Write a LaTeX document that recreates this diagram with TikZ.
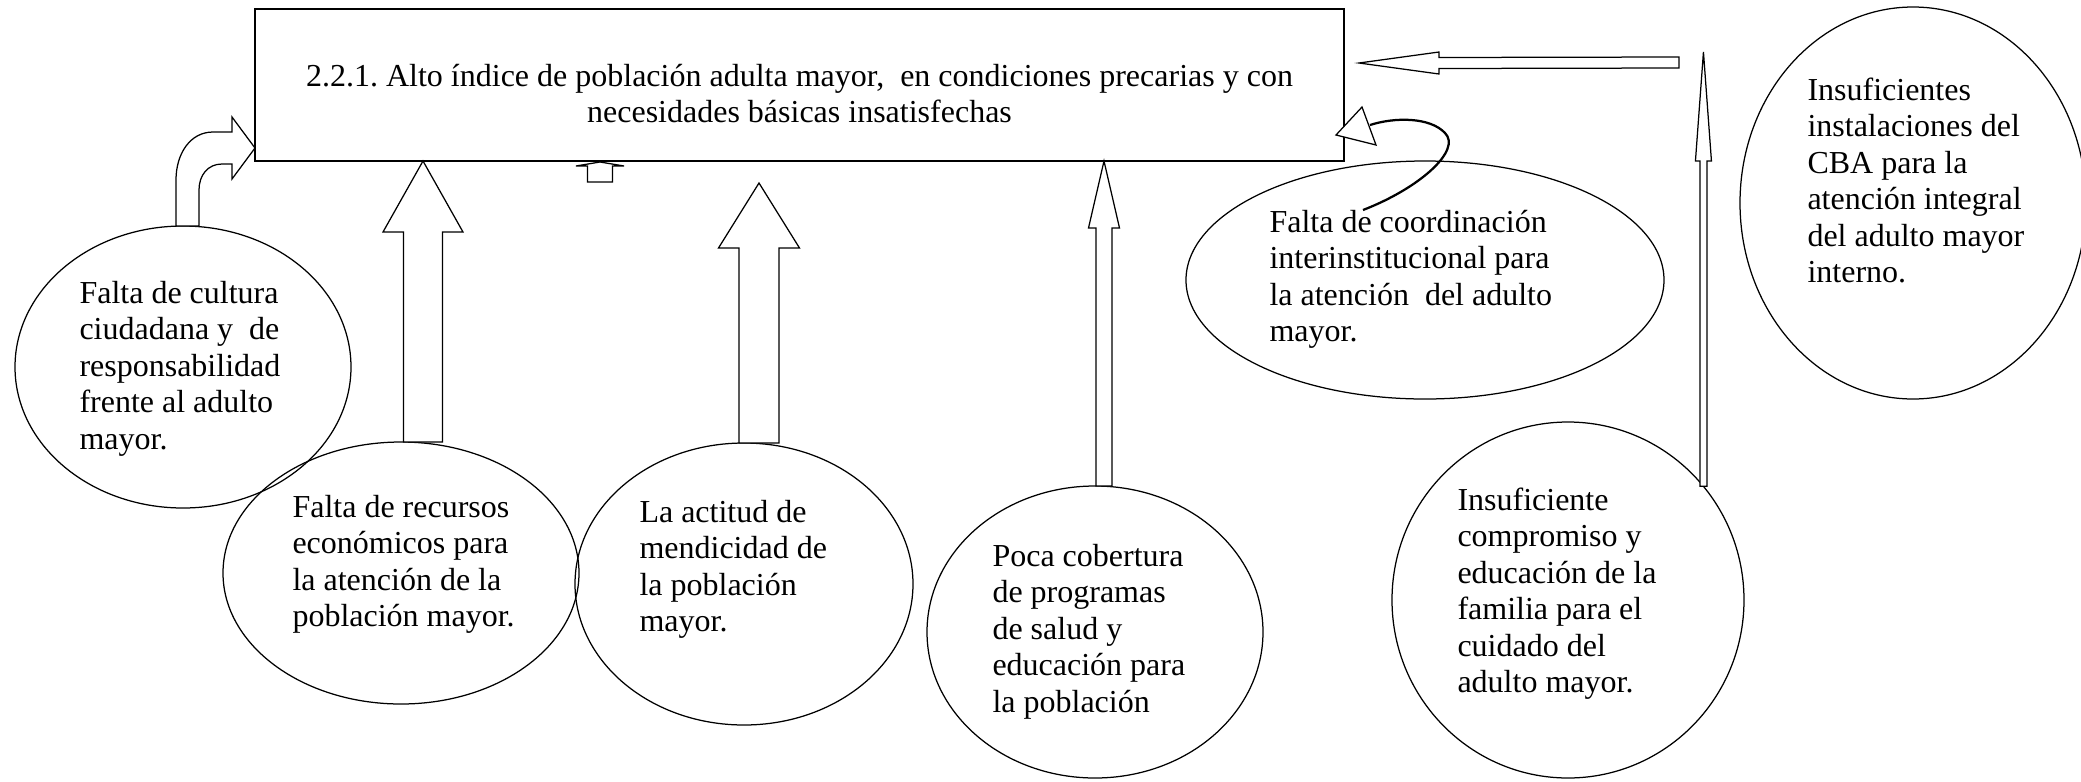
\documentclass[tikz,border=0pt]{standalone}
\usepackage{fontspec}
\setmainfont{Liberation Serif}
\frenchspacing
\usetikzlibrary{shapes.geometric,calc}
\tikzset{
  causa/.style 2 args={ellipse, draw, line width=0.5pt, inner sep=0pt, outer sep=0pt,
    minimum width=#1*0.4pt, minimum height=#2*0.4pt},
  textocausa/.style={anchor=base west, inner sep=0pt, font=\fontsize{12.8}{14.6}\selectfont},
  problemabox/.style={draw, line width=0.6pt, inner sep=0pt, outer sep=0pt,
    minimum width=1089*0.4pt, minimum height=152*0.4pt, font=\fontsize{12.8}{14.4}\selectfont},
  bloque/.style={draw, line width=0.5pt, fill=white, line join=miter},
}
\newcommand{\lineas}[1]{\begin{tabular}[t]{@{}l@{}}#1\end{tabular}}
\newcommand{\flechaarriba}[5]{\draw[bloque] ($(#1)+(-#3,0)$) -- ($(#2)+(-#3,#5)$) -- ($(#2)+(-#4,#5)$) -- (#2) -- ($(#2)+(#4,#5)$) -- ($(#2)+(#3,#5)$) -- ($(#1)+(#3,0)$) -- cycle;}
\newcommand{\flechaizq}[5]{\draw[bloque] ($(#1)+(0,-#3)$) -- ($(#2)+(#5,-#3)$) -- ($(#2)+(#5,-#4)$) -- (#2) -- ($(#2)+(#5,#4)$) -- ($(#2)+(#5,#3)$) -- ($(#1)+(0,#3)$) -- cycle;}
\begin{document}
\begin{tikzpicture}[x=0.4pt,y=-0.4pt]
\useasboundingbox (0,0) rectangle (2081,781);
\node[problemabox, text height=24pt, text depth=23.2pt] (problema) at (799.5,85)
  {\begin{tabular}[t]{@{}c@{}}2.2.1. Alto índice de población adulta mayor,\ \ en condiciones precarias y con\\ necesidades básicas insatisfechas\end{tabular}};
\node[causa={336}{282}] (cultura) at (183,367) {};
\node[causa={356}{262}] (recursos) at (401,573) {};
\node[causa={338}{282}] (mendicidad) at (744,584) {};
\node[causa={336}{292}] (cobertura) at (1095,632) {};
\node[causa={478}{238}] (coordinacion) at (1425,280) {};
\node[causa={346}{392}] (instalaciones) at (1913,203) {};
\node[causa={352}{356}] (compromiso) at (1568,600) {};
\node[textocausa] (culturaTexto) at (79,303) {\lineas{Falta de cultura\\ ciudadana y\ \ de\\ responsabilidad\\ frente al adulto\\ mayor.}};
\node[textocausa] (recursosTexto) at (292,517) {\lineas{Falta de recursos\\ económicos para\\ la atención de la\\ población mayor.}};
\node[textocausa] (mendicidadTexto) at (639,522) {\lineas{La actitud de\\ mendicidad de\\ la población\\ mayor.}};
\node[textocausa] (coberturaTexto) at (992,566) {\lineas{Poca cobertura\\ de programas\\ de salud y\\ educación para\\ la población}};
\node[textocausa] (coordinacionTexto) at (1269,232) {\lineas{Falta de coordinación\\ interinstitucional para\\ la atención\ \ del adulto\\ mayor.}};
\node[textocausa] (instalacionesTexto) at (1807,100) {\lineas{Insuficientes\\ instalaciones del\\ CBA para la\\ atención integral\\ del adulto mayor\\ interno.}};
\node[textocausa] (compromisoTexto) at (1457,510) {\lineas{Insuficiente\\ compromiso y\\ educación de la\\ familia para el\\ cuidado del\\ adulto mayor.}};
\coordinate (recBase) at (423,0 |- recursos.north);
\coordinate (recPunta) at (423,0 |- problema.south);
\coordinate (menBase) at (759,0 |- mendicidad.north);
\coordinate (menPunta) at (759,183);
\coordinate (cobBase) at (1104,0 |- cobertura.north);
\coordinate (cobPunta) at (1104,0 |- problema.south);
\coordinate (sueltaBase) at (600,182);
\coordinate (sueltaPunta) at (600,162);
\coordinate (comBase) at (compromiso.40);
\coordinate (comPunta) at (compromiso.40 |- 0,52);
\coordinate (izqCola) at (1679,62.5);
\coordinate (izqPunta) at (1359,63);
\coordinate (curvaIni) at (1363,210);
\coordinate (curvaPunta) at (1336,135);
\flechaarriba{recBase}{recPunta}{19.5}{40}{71}
\flechaarriba{menBase}{menPunta}{20}{40.5}{65}
\flechaarriba{cobBase}{cobPunta}{8}{15.5}{67}
\flechaarriba{sueltaBase}{sueltaPunta}{12.5}{24}{4}
\flechaarriba{comBase}{comPunta}{3.5}{8}{109}
\flechaizq{izqCola}{izqPunta}{5.5}{11}{80}
\begin{scope}[shift={(cultura.north)}]
\draw[bloque] (-7,0) -- (-7,-46) .. controls (-7,-72) and (7,-94) .. (30,-94) -- (49,-94) -- (49,-109)
  -- (72,-78) -- (49,-47) -- (49,-62) -- (39,-62) .. controls (25,-62) and (16,-51) .. (16,-36) -- (16,0) -- cycle;
\end{scope}
\draw[line width=0.9pt] (curvaIni) .. controls (1420,188) and (1462,150) .. (1445,133)
  .. controls (1430,117) and (1395,117) .. (1370,125);
\draw[bloque] (curvaPunta) -- (1362,107) -- (1376,145) -- cycle;
\end{tikzpicture}
\end{document}
